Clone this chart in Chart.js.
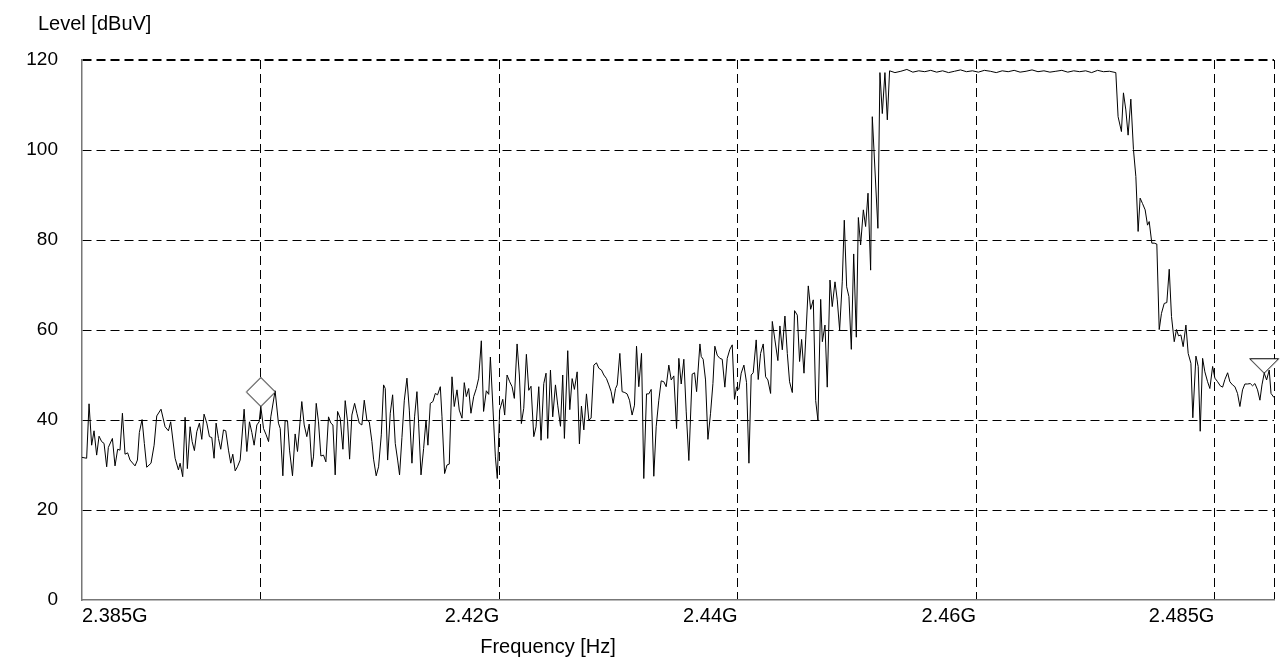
<!DOCTYPE html>
<html>
<head>
<meta charset="utf-8">
<title>Level vs Frequency</title>
<script src="https://cdn.jsdelivr.net/npm/chart.js@4"></script>
<style>
  html, body { margin: 0; padding: 0; background: #fff; }
  #wrap { width: 1287px; height: 664px; position: relative; }
</style>
</head>
<body>
<div id="wrap"><canvas id="spectrum"></canvas></div>
<script>
// trace, frequency in MHz, level in dBuV
const freqMHz = [
  2385.00, 2385.39, 2385.59, 2385.81, 2386.01, 2386.23, 2386.43, 2386.65, 2386.85, 2387.07,
  2387.21, 2387.55, 2387.77, 2387.99, 2388.19, 2388.39, 2388.61, 2388.83, 2389.03, 2389.45,
  2389.65, 2389.81, 2390.04, 2390.23, 2390.43, 2390.79, 2391.05, 2391.27, 2391.63, 2391.97,
  2392.25, 2392.44, 2392.81, 2393.09, 2393.23, 2393.45, 2393.65, 2393.84, 2394.07, 2394.24,
  2394.43, 2394.63, 2394.85, 2395.05, 2395.24, 2395.47, 2395.69, 2395.89, 2396.08, 2396.25,
  2396.45, 2396.64, 2396.87, 2397.06, 2397.29, 2397.48, 2397.65, 2397.85, 2398.04, 2398.27,
  2398.60, 2398.83, 2399.05, 2399.25, 2399.44, 2399.67, 2399.86, 2400.00, 2400.23, 2400.45,
  2400.65, 2400.84, 2401.20, 2401.48, 2401.63, 2401.85, 2402.04, 2402.24, 2402.41, 2402.66,
  2402.88, 2403.08, 2403.44, 2403.64, 2403.86, 2404.06, 2404.28, 2404.42, 2404.65, 2404.84,
  2405.04, 2405.26, 2405.46, 2405.68, 2405.88, 2406.05, 2406.24, 2406.44, 2406.66, 2406.89,
  2407.08, 2407.28, 2407.45, 2407.64, 2407.87, 2408.06, 2408.26, 2408.48, 2408.68, 2408.90,
  2409.10, 2409.32, 2409.46, 2409.68, 2409.88, 2410.11, 2410.30, 2410.44, 2410.64, 2410.86,
  2411.06, 2411.28, 2411.48, 2411.64, 2411.84, 2412.04, 2412.26, 2412.46, 2412.68, 2412.90,
  2413.10, 2413.24, 2413.44, 2413.66, 2413.86, 2414.02, 2414.22, 2414.44, 2414.64, 2414.83,
  2415.06, 2415.20, 2415.42, 2415.62, 2415.81, 2416.04, 2416.23, 2416.46, 2416.65, 2416.88,
  2417.07, 2417.24, 2417.44, 2417.63, 2417.86, 2418.08, 2418.28, 2418.50, 2418.69, 2418.92,
  2419.12, 2419.26, 2419.68, 2419.84, 2420.04,
  2420.30, 2420.46, 2420.66, 2420.88, 2421.08, 2421.27, 2421.50, 2421.69, 2421.86, 2422.06,
  2422.28, 2422.48, 2422.67, 2422.90, 2423.09, 2423.32, 2423.51, 2423.74, 2423.93, 2424.07,
  2424.30, 2424.49, 2424.72, 2424.91, 2425.14, 2425.33, 2425.47, 2425.75, 2425.92, 2426.12,
  2426.31, 2426.54, 2426.73, 2426.90, 2427.10, 2427.32, 2427.52, 2427.71, 2427.94, 2428.16,
  2428.36, 2428.58, 2428.78, 2429.00, 2429.20, 2429.39, 2429.56, 2429.76, 2429.90, 2430.12,
  2430.31, 2430.54, 2430.73, 2430.93, 2431.15, 2431.35, 2431.52, 2431.71, 2431.94, 2432.13,
  2432.36, 2432.55, 2432.75, 2432.97, 2433.17, 2433.39, 2433.59, 2433.81, 2434.01, 2434.23,
  2434.43, 2434.65, 2434.88, 2435.07, 2435.27, 2435.49, 2435.69, 2435.91, 2436.19, 2436.39,
  2436.56, 2436.84,
  2436.95, 2437.11, 2437.31, 2437.51, 2437.73, 2437.93, 2438.09, 2438.29, 2438.51, 2438.71,
  2438.93, 2439.13, 2439.35, 2439.55, 2439.74, 2439.91, 2440.11, 2440.30, 2440.53, 2440.75,
  2440.95, 2441.14, 2441.31, 2441.56, 2441.73, 2441.93, 2442.15, 2442.35, 2442.54, 2442.77,
  2442.91, 2443.13, 2443.38, 2443.55, 2443.75, 2443.97, 2444.17, 2444.36, 2444.59, 2444.78,
  2445.01, 2445.20, 2445.37, 2445.57, 2445.71, 2445.93, 2446.13, 2446.35, 2446.55, 2446.74,
  2446.97, 2447.11, 2447.33, 2447.52, 2447.75, 2447.94, 2448.17, 2448.36, 2448.56, 2448.78,
  2448.95, 2449.15, 2449.34, 2449.54, 2449.74, 2449.96, 2450.13, 2450.32, 2450.55, 2450.74,
  2450.94, 2451.16, 2451.30, 2451.77, 2451.94, 2452.14, 2452.36, 2452.56, 2452.75,
  2453.2, 2453.7, 2454.2, 2454.7, 2455.2, 2455.7, 2456.2, 2456.7, 2457.2, 2457.7,
  2458.2, 2458.7, 2459.2, 2459.7, 2460.2, 2460.7, 2461.2, 2461.7, 2462.2, 2462.7,
  2463.2, 2463.7, 2464.2, 2464.7, 2465.2, 2465.7, 2466.2, 2466.7, 2467.2, 2467.7,
  2468.2, 2468.7, 2469.2, 2469.7, 2470.2, 2470.7, 2471.2,
  2471.73, 2471.92, 2472.20, 2472.37, 2472.57, 2472.76, 2472.99, 2473.21, 2473.41, 2473.60,
  2473.77, 2473.97, 2474.19, 2474.39, 2474.53, 2474.75, 2474.95, 2475.17, 2475.37, 2475.56,
  2475.79, 2476.01, 2476.21, 2476.40, 2476.63, 2476.82, 2476.99, 2477.19, 2477.38, 2477.61,
  2477.80, 2478.03, 2478.19, 2478.45, 2478.64, 2478.81, 2479.01, 2479.20, 2479.43, 2479.62,
  2479.85, 2480.04, 2480.27, 2480.49, 2480.69, 2480.88, 2481.11, 2481.30, 2481.52, 2481.72,
  2481.94, 2482.14, 2482.36, 2482.56, 2482.78, 2483.01, 2483.20, 2483.40, 2483.62, 2483.82,
  2483.99, 2484.18, 2484.38, 2484.60, 2484.75, 2485.00
];

const levelDbuv = [
  31.7, 31.5, 43.6, 34.4, 37.6, 32.2, 36.4, 35.2, 34.8, 29.6,
  33.9, 35.9, 29.8, 33.5, 33.3, 41.5, 32.4, 32.7, 31.1, 29.8,
  31.1, 37.2, 40.1, 34.8, 29.5, 30.4, 34.4, 40.9, 42.4, 38.5,
  37.6, 39.6, 31.5, 28.9, 30.4, 27.4, 40.6, 29.2, 38.5, 35.2,
  33.2, 37.4, 39.3, 35.7, 41.3, 39.3, 36.3, 36.1, 31.5, 39.3,
  35.9, 33.5, 37.8, 37.6, 33.3, 30.4, 32.4, 28.7, 29.6, 31.1,
  42.4, 33.0, 39.6, 37.2, 34.4, 38.9, 39.6, 43.0, 38.1, 36.7,
  35.2, 40.7, 46.5, 39.3, 38.1, 27.6, 39.8, 39.8, 33.3, 27.6,
  36.9, 33.0, 44.1, 38.9, 36.3, 39.1, 29.6, 31.8, 43.7, 39.6,
  32.0, 32.2, 30.7, 40.7, 39.3, 38.9, 27.8, 41.9, 40.4, 33.5,
  44.3, 39.6, 31.3, 41.1, 43.7, 41.5, 39.3, 38.9, 44.4, 40.0,
  39.6, 35.2, 31.3, 27.6, 29.6, 36.7, 47.8, 47.0, 31.1, 41.5,
  45.6, 34.8, 31.1, 27.8, 36.1, 44.4, 49.3, 42.2, 30.4, 40.7,
  46.3, 39.3, 27.8, 33.7, 40.0, 34.4, 43.7, 44.1, 45.9, 45.6,
  47.4, 40.7, 28.1, 30.0, 30.2, 49.6, 43.0, 46.7, 42.2, 40.4,
  48.3, 45.2, 47.0, 41.5, 45.2, 47.0, 49.3, 57.6, 41.9, 46.5,
  45.7, 54.0, 31.8, 27.0, 42.2,
  44.6, 41.1, 50.0, 48.5, 47.4, 44.8, 56.9, 50.0, 39.2, 42.6,
  54.6, 46.6, 47.5, 36.3, 38.5, 47.4, 35.5, 48.1, 50.4, 35.9,
  51.1, 40.7, 47.8, 43.3, 38.6, 50.0, 35.9, 55.4, 42.3, 49.2,
  46.8, 50.7, 34.7, 43.1, 37.8, 45.8, 40.0, 40.4, 52.2, 52.7,
  51.5, 51.1, 50.0, 49.2, 47.8, 46.3, 43.7, 47.0, 47.8, 54.8,
  46.3, 46.1, 45.8, 44.4, 41.1, 43.3, 56.4, 47.4, 54.8, 27.0,
  45.8, 45.8, 46.8, 27.5, 38.5, 44.4, 48.7, 48.5, 47.4, 52.2,
  48.9, 49.8, 38.1, 53.7, 48.0, 53.5, 41.8, 31.0, 50.2, 50.5,
  46.3, 56.9,
  54.1, 53.5, 48.9, 35.7, 41.5, 48.1, 56.4, 54.4, 53.7, 53.5,
  47.3, 53.7, 55.7, 56.7, 44.6, 47.3, 46.8, 50.4, 52.2, 48.3,
  30.4, 50.0, 50.5, 57.8, 49.0, 54.8, 56.9, 49.6, 48.9, 45.9,
  61.9, 57.8, 53.2, 60.9, 55.6, 63.1, 54.8, 48.5, 46.1, 64.3,
  63.3, 53.0, 57.9, 50.4, 57.8, 69.8, 64.6, 66.7, 44.3, 39.9,
  66.8, 57.4, 61.1, 47.3, 71.1, 65.2, 70.7, 66.7, 60.0, 70.7,
  84.4, 69.6, 67.4, 55.7, 76.9, 58.4, 85.0, 78.9, 86.7, 83.0,
  90.4, 73.3, 107.4, 82.6, 117.2, 108.1, 117.2, 106.7, 117.6,
  117.2, 117.5, 117.9, 117.3, 117.6, 117.4, 117.7, 117.3, 117.6, 117.2,
  117.5, 117.8, 117.4, 117.6, 117.3, 117.7, 117.5, 117.2, 117.6, 117.4,
  117.7, 117.3, 117.5, 117.8, 117.4, 117.6, 117.3, 117.5, 117.7, 117.3,
  117.6, 117.4, 117.6, 117.2, 117.7, 117.4, 117.5,
  117.2, 107.4, 104.1, 112.7, 108.9, 103.3, 111.3, 100.1, 94.1, 81.9,
  89.3, 88.1, 86.7, 83.3, 84.1, 79.3, 79.3, 79.1, 60.1, 63.7,
  65.9, 66.1, 73.5, 63.0, 57.4, 60.1, 58.7, 58.9, 56.3, 61.1,
  54.8, 52.6, 40.5, 54.2, 51.9, 37.5, 53.7, 50.7, 48.5, 47.0,
  51.9, 49.3, 48.5, 47.6, 47.3, 49.0, 50.5, 48.5, 47.8, 47.4,
  45.9, 43.0, 46.7, 48.0, 48.0, 48.1, 47.6, 48.1, 46.7, 44.4,
  47.8, 50.4, 48.9, 51.1, 45.9, 45.0
];

// diamond and down-triangle markers sit on these trace points
const markerFreq = [2400.00, 2484.18];
const markerLevel = [43.0, 50.4];

const yTicks = [0, 20, 40, 60, 80, 100, 120];
const xTickValues = [2400, 2420, 2440, 2460, 2480, 2485];
const xTickLabels = ['', '2.42G', '2.44G', '2.46G', '2.485G', ''];
const xStartLabel = '2.385G';
const xMin = 2385;
const xMax = 2485;

const FONT = '"Liberation Sans", Arial, Helvetica, sans-serif';
Chart.defaults.font.family = FONT;
Chart.defaults.color = '#000';

// marker glyphs, drawn so the tip lands on the image centre
function diamondGlyph() {
  const c = document.createElement('canvas');
  c.width = 32; c.height = 62;
  const g = c.getContext('2d');
  g.strokeStyle = '#000';
  g.fillStyle = '#fff';
  g.lineWidth = 1;
  g.beginPath();
  g.moveTo(16, 2); g.lineTo(30.5, 16.5); g.lineTo(16, 31); g.lineTo(1.5, 16.5);
  g.closePath();
  g.fill();
  g.stroke();
  return c;
}

function triangleGlyph() {
  const c = document.createElement('canvas');
  c.width = 32; c.height = 32;
  const g = c.getContext('2d');
  g.strokeStyle = '#000';
  g.fillStyle = '#fff';
  g.lineWidth = 1;
  g.beginPath();
  g.moveTo(1.5, 1.5); g.lineTo(30.5, 1.5); g.lineTo(16, 16);
  g.closePath();
  g.fill();
  g.stroke();
  return c;
}

// axis titles and the left-aligned start frequency label
const axisTexts = {
  id: 'axisTexts',
  afterDraw(chart) {
    const { ctx, chartArea } = chart;
    const xScale = chart.scales.x;
    ctx.save();
    ctx.font = '20px ' + FONT;
    ctx.fillStyle = '#000';
    ctx.textBaseline = 'alphabetic';
    ctx.textAlign = 'left';
    ctx.fillText('Level [dBuV]', chartArea.left - 44, 30);
    ctx.textAlign = 'center';
    ctx.fillText('Frequency [Hz]', chartArea.left + 466, 653);
    ctx.textAlign = 'left';
    ctx.textBaseline = 'middle';
    ctx.fillText(xStartLabel, xScale.getPixelForValue(xMin), xScale.top + 16);
    ctx.restore();
  }
};

const ctx = document.getElementById('spectrum').getContext('2d');
new Chart(ctx, {
  type: 'line',
  data: {
    datasets: [
      {
        label: 'markers',
        data: markerFreq.map((f, i) => ({ x: f, y: markerLevel[i] })),
        showLine: false,
        pointStyle: [diamondGlyph(), triangleGlyph()],
        pointRadius: 3,
        clip: false,
      },
      {
        label: 'Level',
        data: freqMHz.map((f, i) => ({ x: f, y: levelDbuv[i] })),
        borderColor: '#000',
        borderWidth: 1,
        pointRadius: 0,
        tension: 0,
        fill: false,
      },
    ],
  },
  options: {
    responsive: true,
    maintainAspectRatio: false,
    animation: false,
    events: [],
    layout: { padding: { top: 60, right: 13, left: 0, bottom: 0 } },
    plugins: { legend: { display: false }, tooltip: { enabled: false }, title: { display: false } },
    scales: {
      x: {
        type: 'linear',
        position: 'bottom',
        min: xMin,
        max: xMax,
        bounds: 'data',
        afterBuildTicks: s => { s.ticks = xTickValues.map(v => ({ value: v })); },
        afterFit: s => { s.height = 64; },
        ticks: {
          autoSkip: false, maxRotation: 0, align: 'end', padding: 4,
          color: '#000', font: { size: 20 },
          callback: v => xTickLabels[xTickValues.indexOf(v)],
        },
        grid: { color: '#000', lineWidth: 1, drawTicks: false },
        border: { display: true, color: '#777', width: 1.5, dash: [9, 5] },
      },
      y: {
        min: 0,
        max: 120,
        afterBuildTicks: s => { s.ticks = yTicks.map(v => ({ value: v })); },
        afterFit: s => { s.width = 82; },
        ticks: { padding: 24, color: '#000', font: { size: 19 } },
        grid: {
          drawTicks: false,
          color: c => (c.tick && c.tick.value === 0 ? 'rgba(0,0,0,0)' : '#000'),
          lineWidth: c => (c.tick && c.tick.value === 120 ? 2 : 1),
        },
        border: { display: true, color: '#777', width: 1.5, dash: [9, 5] },
      },
    },
  },
  plugins: [axisTexts],
});
</script>
</body>
</html>
